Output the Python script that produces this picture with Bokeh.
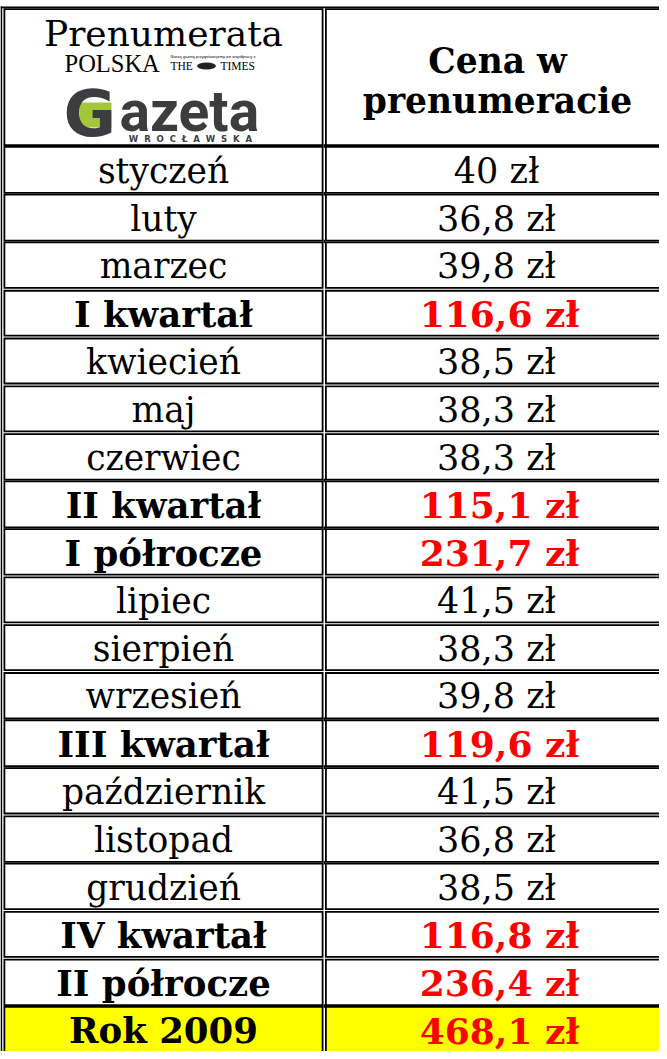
from bokeh.plotting import figure
from bokeh.models import Range1d
from bokeh.core.properties import value
from bokeh.embed import file_html
from bokeh.resources import INLINE

# ---- data ----
labels = ["styczeń", "luty", "marzec", "I kwartał", "kwiecień", "maj", "czerwiec",
          "II kwartał", "I półrocze", "lipiec", "sierpień", "wrzesień", "III kwartał",
          "październik", "listopad", "grudzień", "IV kwartał", "II półrocze", "Rok 2009"]
prices = [40, 36.8, 39.8, 116.6, 38.5, 38.3, 38.3, 115.1, 231.7, 41.5, 38.3, 39.8,
          119.6, 41.5, 36.8, 38.5, 116.8, 236.4, 468.1]
is_summary = [False, False, False, True, False, False, False, True, True, False, False,
              False, True, False, False, False, True, True, True]
header_left = ["Prenumerata"]
header_right = ["Cena w", "prenumeracie"]
currency = "zł"

# ---- style / layout ----
SERIF = "DejaVu Serif"
TOP0 = 153.5
PITCH = 47.78
BW = 1.8
# border style between rows (k = 0 is header / first row): True -> double, False -> merged thick
double_b = [False, False, False, True, True, True, True, False, False, True, True, True,
            False, False, True, False, True, True, False, False]
X_L = (10.0, 330.0)
X_R = (331.5, 700.0)


def fmt(v):
    if float(v).is_integer():
        return f"{int(v)} {currency}"
    return f"{v:.1f}".replace(".", ",") + f" {currency}"


n = len(labels)
bounds = [TOP0 + PITCH * k for k in range(n + 1)]

p = figure(width=659, height=1051, x_range=Range1d(7, 666), y_range=Range1d(1059, 8),
           output_backend="svg", toolbar_location=None, min_border=0)
p.axis.visible = False
p.grid.visible = False
p.outline_line_color = None
p.background_fill_color = "white"
p.border_fill_color = "white"

# outer cell boxes + inner fills
ol, orr, ot, ob = [], [], [], []
il, ir, it, ib, ic = [], [], [], [], []
rows = [(-1, 15.7, bounds[0] - (0.5 if double_b[0] else 0.0))]
for r in range(n):
    top = bounds[r] + (0.5 if double_b[r] else 0.0)
    bot = bounds[r + 1] - (0.5 if double_b[r + 1] else 0.0)
    rows.append((r, top, bot))
for r, top, bot in rows:
    fill = "#FFFF00" if r == n - 1 else "white"
    for (x0, x1) in (X_L, X_R):
        ol.append(x0); orr.append(x1); ot.append(top); ob.append(bot)
        il.append(x0 + BW); ir.append(x1 - BW); it.append(top + BW); ib.append(bot - BW); ic.append(fill)

p.quad(left=ol, right=orr, top=ot, bottom=ob, fill_color="black", line_color=None)
p.quad(left=il, right=ir, top=it, bottom=ib, fill_color=ic, line_color=None)

# fill column gap where borders merge
gl, gr, gt, gb = [], [], [], []
for k in range(n):
    if not double_b[k]:
        gl.append(X_L[1]); gr.append(X_R[0]); gt.append(bounds[k] - BW); gb.append(bounds[k] + BW)
p.quad(left=gl, right=gr, top=gt, bottom=gb, fill_color="black", line_color=None)

# table outer border (left and top)
p.quad(left=[7, 7], right=[8.7, 700], top=[14, 14], bottom=[1100, 15.8],
       fill_color="black", line_color=None)

# row texts
cx_l = 170
cx_r = 503
ys = [(bounds[r] + bounds[r + 1]) / 2 + 1 for r in range(n)]
reg = [i for i in range(n) if not is_summary[i]]
bold = [i for i in range(n) if is_summary[i]]
p.text(x=[cx_l] * len(reg), y=[ys[i] for i in reg], text=[labels[i] for i in reg],
       text_font=value(SERIF), text_font_size="34.5px", text_align="center",
       text_baseline="middle", text_color="black")
p.text(x=[cx_r] * len(reg), y=[ys[i] for i in reg], text=[fmt(prices[i]) for i in reg],
       text_font=value(SERIF), text_font_size="35px", text_align="center",
       text_baseline="middle", text_color="black")
p.text(x=[cx_l] * len(bold), y=[ys[i] for i in bold], text=[labels[i] for i in bold],
       text_font=value(SERIF), text_font_size="35.5px", text_font_style="bold",
       text_align="center", text_baseline="middle", text_color="black")
p.text(x=[cx_r + 3] * len(bold), y=[ys[i] for i in bold], text=[fmt(prices[i]) for i in bold],
       text_font=value(SERIF), text_font_size="36px", text_font_style="bold",
       text_align="center", text_baseline="middle", text_color="#FF0000")

# header right
p.text(x=[504, 504], y=[68, 108], text=header_right, text_font=value(SERIF),
       text_font_size="34.5px", text_font_style="bold", text_align="center",
       text_baseline="middle", text_color="black")

# header left: "Prenumerata" + logos
p.text(x=[cx_l], y=[41], text=header_left, text_font=value(SERIF), text_font_size="36px",
       text_align="center", text_baseline="middle", text_color="black")
p.text(x=[71], y=[71], text=["POLSKA"], text_font=value("Liberation Serif"),
       text_font_size="24.5px", text_align="left", text_baseline="middle",
       text_color="black")
p.text(x=[177], y=[63.5], text=["Naszą gazetę przygotowujemy we współpracy z"],
       text_font=value("Liberation Sans"), text_font_size="4px", text_align="left",
       text_baseline="middle", text_color="black")
p.text(x=[177, 227], y=[73.5, 73.5], text=["THE", "TIMES"], text_font=value("Liberation Serif"),
       text_font_size="11.5px", text_align="left", text_baseline="middle",
       text_color="black")
p.ellipse(x=[213], y=[73.5], width=[19], height=[7], fill_color="#222222", line_color=None)

# Gazeta logo
p.quad(left=[86], right=[118], top=[110], bottom=[135], fill_color="#a3c73a", line_color=None)
p.text(x=[70], y=[121], text=["G"], text_font=value("DejaVu Sans"), text_font_size="64px",
       text_font_style="bold", text_align="left", text_baseline="middle",
       text_color="#3d3d3f")
p.text(x=[126], y=[119], text=["azeta"], text_font=value("Roboto"), text_font_size="57px",
       text_font_style="bold", text_align="left", text_baseline="middle",
       text_color="#3d3d3f")
p.text(x=[197], y=[146.5], text=["W\u2007R\u2007O\u2007C\u2007Ł\u2007A\u2007W\u2007S\u2007K\u2007A"],
       text_font=value("DejaVu Sans"), text_font_size="8.5px", text_font_style="bold",
       text_align="center", text_baseline="middle", text_color="#3d3d3f")

open("out.html", "w").write(file_html(p, INLINE))
